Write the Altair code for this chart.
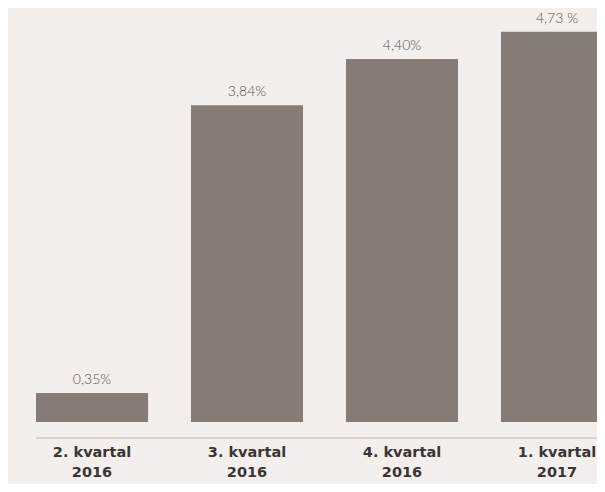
import altair as alt
import pandas as pd

categories = ["2. kvartal\n2016", "3. kvartal\n2016", "4. kvartal\n2016", "1. kvartal\n2017"]
values = [0.35, 3.84, 4.40, 4.73]
value_labels = ["0,35%", "3,84%", "4,40%", "4,73 %"]

df = pd.DataFrame({"cat": categories, "val": values, "lab": value_labels})
order = categories

xscale = alt.Scale(domain=order, range=[28, 605], paddingInner=0.277, paddingOuter=0)
yscale = alt.Scale(domain=[0, 5.018], range=[414, 0])

base = alt.Chart(df)

bars = base.mark_bar(color="#857c78").encode(
    x=alt.X("cat:N", scale=xscale, axis=None, sort=order),
    y=alt.Y("val:Q", scale=yscale, axis=None),
)

vlabels = base.mark_text(
    baseline="alphabetic", dy=-9, font="Lato", fontSize=14, fontWeight=300, color="#555050"
).encode(
    x=alt.X("cat:N", scale=xscale, axis=None, sort=order),
    y=alt.Y("val:Q", scale=yscale, axis=None),
    text="lab:N",
)

rule = base.mark_rule(color="#d8d3d0", strokeWidth=1.5).encode(
    x=alt.value(28), x2=alt.value(605), y=alt.value(430)
)

clabels = base.mark_text(
    baseline="middle", font="DejaVu Sans", fontSize=14.5, fontWeight="bold", color="#3a3535",
    lineBreak="\n", lineHeight=20
).encode(
    x=alt.X("cat:N", scale=xscale, axis=None, sort=order),
    y=alt.value(445),
    text="cat:N",
)

chart = alt.layer(bars, vlabels, rule, clabels).properties(
    width=589, height=476, background="#f2efec", padding=0,
    autosize=alt.AutoSizeParams(type="none")
).configure_view(stroke=None)

chart.save("out.html", embed_options={"renderer": "svg", "actions": False})
